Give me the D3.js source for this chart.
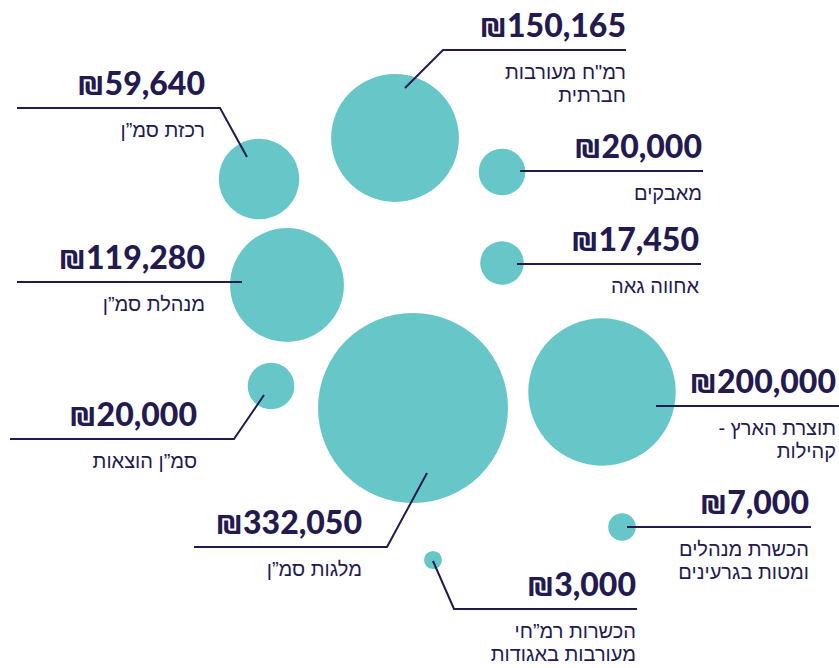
<!DOCTYPE html>
<html>
<head>
<meta charset="utf-8">
<script src="https://cdn.jsdelivr.net/npm/d3@7"></script>
<style>
  html, body { margin: 0; padding: 0; background: #fff; }
  svg { display: block; }
</style>
</head>
<body>
<svg width="839" height="668"></svg>
<script>
// budget items (label lines) and amounts in shekels
var labels = [
  ["רמ\"ח מעורבות", "חברתית"],
  ["רכזת סמ”ן"],
  ["מאבקים"],
  ["מנהלת סמ”ן"],
  ["אחווה גאה"],
  ["סמ”ן הוצאות"],
  ["מלגות סמ”ן"],
  ["תוצרת הארץ -", "קהילות"],
  ["הכשרת מנהלים", "ומטות בגרעינים"],
  ["הכשרות רמ”חי", "מעורבות באגודות"]
];
var amounts = [150165, 59640, 20000, 119280, 17450, 20000, 332050, 200000, 7000, 3000];

// hand placed layout of the infographic (bubble centres, callout lines)
var centers = [[395,138],[259,179],[502,172],[287,285],[502,263],[271,386],[413,408],[602,392],[622,527],[433,560]];
var callouts = [
  {tx: 626, ly: 50,  x1: 443, x2: 626, pin: [405, 88]},
  {tx: 205, ly: 108, x1: 17,  x2: 220, pin: [247, 157]},
  {tx: 702, ly: 171, x1: 520, x2: 703, pin: null},
  {tx: 205, ly: 282, x1: 17,  x2: 242, pin: null},
  {tx: 699, ly: 264, x1: 517, x2: 701, pin: null},
  {tx: 197, ly: 439, x1: 10,  x2: 234, pin: [264, 395]},
  {tx: 362, ly: 547, x1: 194, x2: 387, pin: [427, 473]},
  {tx: 836, ly: 406, x1: 656, x2: 839, pin: null},
  {tx: 809, ly: 527, x1: 627, x2: 811, pin: null},
  {tx: 636, ly: 609, x1: 454, x2: 637, pin: [433, 561]}
];

var navy = "#231a4f",
    teal = "#67c7c8";

var svg = d3.select("svg");

var rScale = d3.scaleSqrt()
    .domain([0, d3.max(amounts)])
    .range([0, 95]);

var items = amounts.map(function(v, i) {
  return {value: v, label: labels[i], c: centers[i], co: callouts[i]};
});

svg.append("g")
    .attr("class", "bubbles")
  .selectAll("circle")
  .data(items)
  .enter().append("circle")
    .attr("cx", function(d) { return d.c[0]; })
    .attr("cy", function(d) { return d.c[1]; })
    .attr("r", function(d) { return rScale(d.value); })
    .attr("fill", teal);

svg.append("g")
    .attr("class", "callouts")
  .selectAll("polyline")
  .data(items)
  .enter().append("polyline")
    .attr("fill", "none")
    .attr("stroke", navy)
    .attr("stroke-width", 2)
    .attr("points", function(d) {
      var co = d.co, pts;
      if (!co.pin) {
        pts = [[co.x1, co.ly], [co.x2, co.ly]];
      } else if (co.pin[0] > co.x2) {
        // bubble is to the right of the label
        pts = [[co.x1, co.ly], [co.x2, co.ly], co.pin];
      } else {
        pts = [co.pin, [co.x1, co.ly], [co.x2, co.ly]];
      }
      return pts.map(function(p) { return p.join(","); }).join(" ");
    });

var fmt = d3.format(",");

var labelG = svg.append("g")
    .attr("class", "labels")
  .selectAll("g")
  .data(items)
  .enter().append("g");

labelG.append("text")
    .attr("x", function(d) { return d.co.tx; })
    .attr("y", function(d) { return d.co.ly - 13; })
    .attr("text-anchor", "end")
    .attr("direction", "ltr")
    .style("font-family", "Lato, 'DejaVu Sans', sans-serif")
    .style("font-weight", 900)
    .style("font-size", "32px")
    .style("fill", navy)
    .text(function(d) { return "₪" + fmt(d.value); });

// item name, one text per item, lines as tspans
labelG.append("text")
    .attr("direction", "rtl")
    .attr("text-anchor", "start")
    .style("font-family", "'Liberation Sans', Arial, sans-serif")
    .style("font-size", "20px")
    .style("fill", navy)
  .selectAll("tspan")
  .data(function(d) {
    return d.label.map(function(t, j) { return {t: t, x: d.co.tx, y: d.co.ly + 29 + j * 23}; });
  })
  .enter().append("tspan")
    .attr("x", function(l) { return l.x; })
    .attr("y", function(l) { return l.y; })
    .text(function(l) { return l.t; });
</script>
</body>
</html>
